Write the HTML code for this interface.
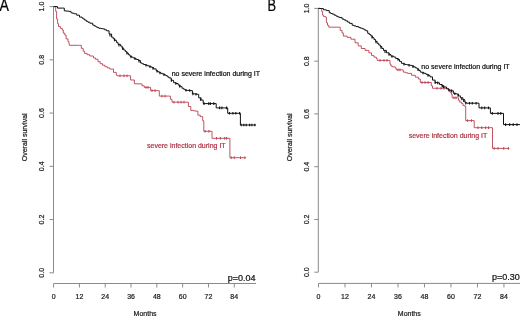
<!DOCTYPE html>
<html><head><meta charset="utf-8"><style>
html,body{margin:0;padding:0;background:#fff;width:520px;height:316px;overflow:hidden}
svg{display:block;will-change:transform}
text{font-family:"Liberation Sans",sans-serif}
</style></head><body>
<svg width="520" height="316" viewBox="0 0 520 316">
<line x1="53.5" y1="6.6" x2="53.5" y2="272.8" stroke="#8a8a8a" stroke-width="1"/>
<line x1="49.5" y1="272.80" x2="53.5" y2="272.80" stroke="#8a8a8a" stroke-width="1"/>
<text x="0" y="0" transform="translate(41.4 272.80) rotate(-90)" text-anchor="middle" dy="2.5" font-size="7" fill="#222" stroke="#222" stroke-width="0.22">0.0</text>
<line x1="49.5" y1="219.56" x2="53.5" y2="219.56" stroke="#8a8a8a" stroke-width="1"/>
<text x="0" y="0" transform="translate(41.4 219.56) rotate(-90)" text-anchor="middle" dy="2.5" font-size="7" fill="#222" stroke="#222" stroke-width="0.22">0.2</text>
<line x1="49.5" y1="166.32" x2="53.5" y2="166.32" stroke="#8a8a8a" stroke-width="1"/>
<text x="0" y="0" transform="translate(41.4 166.32) rotate(-90)" text-anchor="middle" dy="2.5" font-size="7" fill="#222" stroke="#222" stroke-width="0.22">0.4</text>
<line x1="49.5" y1="113.08" x2="53.5" y2="113.08" stroke="#8a8a8a" stroke-width="1"/>
<text x="0" y="0" transform="translate(41.4 113.08) rotate(-90)" text-anchor="middle" dy="2.5" font-size="7" fill="#222" stroke="#222" stroke-width="0.22">0.6</text>
<line x1="49.5" y1="59.84" x2="53.5" y2="59.84" stroke="#8a8a8a" stroke-width="1"/>
<text x="0" y="0" transform="translate(41.4 59.84) rotate(-90)" text-anchor="middle" dy="2.5" font-size="7" fill="#222" stroke="#222" stroke-width="0.22">0.8</text>
<line x1="49.5" y1="6.60" x2="53.5" y2="6.60" stroke="#8a8a8a" stroke-width="1"/>
<text x="0" y="0" transform="translate(41.4 6.60) rotate(-90)" text-anchor="middle" dy="2.5" font-size="7" fill="#222" stroke="#222" stroke-width="0.22">1.0</text>
<line x1="53.6" y1="283.5" x2="256" y2="283.5" stroke="#8a8a8a" stroke-width="1"/>
<line x1="53.60" y1="283.5" x2="53.60" y2="287.5" stroke="#8a8a8a" stroke-width="1"/>
<text x="53.60" y="299.0" text-anchor="middle" font-size="7" fill="#222" stroke="#222" stroke-width="0.22">0</text>
<line x1="79.41" y1="283.5" x2="79.41" y2="287.5" stroke="#8a8a8a" stroke-width="1"/>
<text x="79.41" y="299.0" text-anchor="middle" font-size="7" fill="#222" stroke="#222" stroke-width="0.22">12</text>
<line x1="105.22" y1="283.5" x2="105.22" y2="287.5" stroke="#8a8a8a" stroke-width="1"/>
<text x="105.22" y="299.0" text-anchor="middle" font-size="7" fill="#222" stroke="#222" stroke-width="0.22">24</text>
<line x1="131.03" y1="283.5" x2="131.03" y2="287.5" stroke="#8a8a8a" stroke-width="1"/>
<text x="131.03" y="299.0" text-anchor="middle" font-size="7" fill="#222" stroke="#222" stroke-width="0.22">36</text>
<line x1="156.84" y1="283.5" x2="156.84" y2="287.5" stroke="#8a8a8a" stroke-width="1"/>
<text x="156.84" y="299.0" text-anchor="middle" font-size="7" fill="#222" stroke="#222" stroke-width="0.22">48</text>
<line x1="182.65" y1="283.5" x2="182.65" y2="287.5" stroke="#8a8a8a" stroke-width="1"/>
<text x="182.65" y="299.0" text-anchor="middle" font-size="7" fill="#222" stroke="#222" stroke-width="0.22">60</text>
<line x1="208.46" y1="283.5" x2="208.46" y2="287.5" stroke="#8a8a8a" stroke-width="1"/>
<text x="208.46" y="299.0" text-anchor="middle" font-size="7" fill="#222" stroke="#222" stroke-width="0.22">72</text>
<line x1="234.27" y1="283.5" x2="234.27" y2="287.5" stroke="#8a8a8a" stroke-width="1"/>
<text x="234.27" y="299.0" text-anchor="middle" font-size="7" fill="#222" stroke="#222" stroke-width="0.22">84</text>
<text x="0" y="0" transform="translate(24.3 137.3) rotate(-90)" text-anchor="middle" dy="2.5" font-size="7" fill="#222" stroke="#222" stroke-width="0.22">Overall survival</text>
<text x="133.6" y="316" font-size="7" fill="#222" stroke="#222" stroke-width="0.22">Months</text>
<text x="227.8" y="280.5" font-size="9" fill="#111" stroke="#111" stroke-width="0.22">p=0.04</text>
<text x="0" y="0" transform="translate(-0.4 11.2) scale(0.86 1)" font-size="16.5" fill="#000" stroke="#000" stroke-width="0.22">A</text>
<text x="171.7" y="76.3" font-size="7" fill="#111" stroke="#111" stroke-width="0.22">no severe infection during IT</text>
<text x="147" y="147.8" font-size="7" fill="#b03848" stroke="#b03848" stroke-width="0.22">severe infection during IT</text>
<line x1="318.3" y1="8.4" x2="318.3" y2="272.2" stroke="#8a8a8a" stroke-width="1"/>
<line x1="314.3" y1="272.20" x2="318.3" y2="272.20" stroke="#8a8a8a" stroke-width="1"/>
<text x="0" y="0" transform="translate(306.1 272.20) rotate(-90)" text-anchor="middle" dy="2.5" font-size="7" fill="#222" stroke="#222" stroke-width="0.22">0.0</text>
<line x1="314.3" y1="219.44" x2="318.3" y2="219.44" stroke="#8a8a8a" stroke-width="1"/>
<text x="0" y="0" transform="translate(306.1 219.44) rotate(-90)" text-anchor="middle" dy="2.5" font-size="7" fill="#222" stroke="#222" stroke-width="0.22">0.2</text>
<line x1="314.3" y1="166.68" x2="318.3" y2="166.68" stroke="#8a8a8a" stroke-width="1"/>
<text x="0" y="0" transform="translate(306.1 166.68) rotate(-90)" text-anchor="middle" dy="2.5" font-size="7" fill="#222" stroke="#222" stroke-width="0.22">0.4</text>
<line x1="314.3" y1="113.92" x2="318.3" y2="113.92" stroke="#8a8a8a" stroke-width="1"/>
<text x="0" y="0" transform="translate(306.1 113.92) rotate(-90)" text-anchor="middle" dy="2.5" font-size="7" fill="#222" stroke="#222" stroke-width="0.22">0.6</text>
<line x1="314.3" y1="61.16" x2="318.3" y2="61.16" stroke="#8a8a8a" stroke-width="1"/>
<text x="0" y="0" transform="translate(306.1 61.16) rotate(-90)" text-anchor="middle" dy="2.5" font-size="7" fill="#222" stroke="#222" stroke-width="0.22">0.8</text>
<line x1="314.3" y1="8.40" x2="318.3" y2="8.40" stroke="#8a8a8a" stroke-width="1"/>
<text x="0" y="0" transform="translate(306.1 8.40) rotate(-90)" text-anchor="middle" dy="2.5" font-size="7" fill="#222" stroke="#222" stroke-width="0.22">1.0</text>
<line x1="318.5" y1="283.4" x2="520" y2="283.4" stroke="#8a8a8a" stroke-width="1"/>
<line x1="318.50" y1="283.4" x2="318.50" y2="287.4" stroke="#8a8a8a" stroke-width="1"/>
<text x="318.50" y="298.9" text-anchor="middle" font-size="7" fill="#222" stroke="#222" stroke-width="0.22">0</text>
<line x1="344.99" y1="283.4" x2="344.99" y2="287.4" stroke="#8a8a8a" stroke-width="1"/>
<text x="344.99" y="298.9" text-anchor="middle" font-size="7" fill="#222" stroke="#222" stroke-width="0.22">12</text>
<line x1="371.48" y1="283.4" x2="371.48" y2="287.4" stroke="#8a8a8a" stroke-width="1"/>
<text x="371.48" y="298.9" text-anchor="middle" font-size="7" fill="#222" stroke="#222" stroke-width="0.22">24</text>
<line x1="397.97" y1="283.4" x2="397.97" y2="287.4" stroke="#8a8a8a" stroke-width="1"/>
<text x="397.97" y="298.9" text-anchor="middle" font-size="7" fill="#222" stroke="#222" stroke-width="0.22">36</text>
<line x1="424.46" y1="283.4" x2="424.46" y2="287.4" stroke="#8a8a8a" stroke-width="1"/>
<text x="424.46" y="298.9" text-anchor="middle" font-size="7" fill="#222" stroke="#222" stroke-width="0.22">48</text>
<line x1="450.95" y1="283.4" x2="450.95" y2="287.4" stroke="#8a8a8a" stroke-width="1"/>
<text x="450.95" y="298.9" text-anchor="middle" font-size="7" fill="#222" stroke="#222" stroke-width="0.22">60</text>
<line x1="477.44" y1="283.4" x2="477.44" y2="287.4" stroke="#8a8a8a" stroke-width="1"/>
<text x="477.44" y="298.9" text-anchor="middle" font-size="7" fill="#222" stroke="#222" stroke-width="0.22">72</text>
<line x1="503.93" y1="283.4" x2="503.93" y2="287.4" stroke="#8a8a8a" stroke-width="1"/>
<text x="503.93" y="298.9" text-anchor="middle" font-size="7" fill="#222" stroke="#222" stroke-width="0.22">84</text>
<text x="0" y="0" transform="translate(289.2 137.3) rotate(-90)" text-anchor="middle" dy="2.5" font-size="7" fill="#222" stroke="#222" stroke-width="0.22">Overall survival</text>
<text x="397.8" y="316" font-size="7" fill="#222" stroke="#222" stroke-width="0.22">Months</text>
<text x="492.1" y="280.1" font-size="9" fill="#111" stroke="#111" stroke-width="0.22">p=0.30</text>
<text x="0" y="0" transform="translate(267.5 10.9) scale(0.78 1)" font-size="16.5" fill="#000" stroke="#000" stroke-width="0.22">B</text>
<text x="421.3" y="68.5" font-size="7" fill="#111" stroke="#111" stroke-width="0.22">no severe infection during IT</text>
<text x="408.7" y="138.3" font-size="7" fill="#b03848" stroke="#b03848" stroke-width="0.22">severe infection during IT</text>
<path d="M53.5 6.6H54.5H55.70V11.40H56.60V19.00H57.60V23.70H58.50V26.50H60.40V28.40H62.30V30.00H63.30V33.20H64.80V35.10H66.10V38.90H68.00V41.70H69.00V44.50H69.50V45.30H79.4H81.30V48.30H83.20V51.20H84.70V53.50H87.20V54.70H89.70V56.00H93.50V57.90H95.40V59.20H98.00V61.70H100.20V63.70H102.55V65.20H104.90V66.70H107.30V67.85H109.70V69.00H113.50V72.40H116.30V74.90H117.00V75.80H128.9H130.60V80.00H134.40V83.80H138.00V83.90H142.00V85.80H144.30V87.40H149.9H150.60V90.60H158.6H159.30V96.10H168.8H170.40V99.30H172.00V102.20H186.9H188.40V106.50H190.80V110.40H193.20V110.80H195.60V111.20H197.90V115.20H200.30V116.70H202.70V120.70H203.80V123.00V131.3H212.0V138.3H229.9V157.7H245.8" fill="none" stroke="#bb4150" stroke-width="0.9"/>
<path d="M205.1 130.0v2.6M208.9 130.0v2.6M216.5 137.0v2.6M220.3 137.0v2.6M224.7 137.0v2.6M226.6 137.0v2.6M231.2 156.4v2.6M234.2 156.4v2.6M240.5 156.4v2.6M244.9 156.4v2.6M120.0 74.5v2.6M124.0 74.5v2.6M127.0 74.5v2.6M146.0 86.1v2.6M148.0 86.1v2.6M152.0 89.3v2.6M155.0 89.3v2.6M162.0 94.8v2.6M165.0 94.8v2.6M174.0 100.9v2.6M178.0 100.9v2.6M181.0 100.9v2.6M184.0 100.9v2.6" fill="none" stroke="#bb4150" stroke-width="1"/>
<path d="M53.5 6.6H57.2H57.50V8.10H62.4H64.30V10.90H66.70V11.15H69.10V11.40H71.00V12.80H72.65V13.30H74.30V13.80H76.70V15.20H79.50V17.10H82.00V18.00H83.20V19.00H84.75V20.15H86.30V21.30H88.05V22.25H89.80V23.20H92.70V25.10H94.35V26.05H96.00V27.00H97.50V27.65H99.00V28.30H100.90V28.60H102.80V28.90H104.70V29.85H106.60V30.80H109.10V34.00H111.60V37.20H113.20V38.75H114.80V40.30H116.40V42.35H118.00V44.40H120.60V46.10H122.15V48.05H123.70V50.00H125.30V51.60H126.90V53.20H128.45V54.80H130.00V56.40H131.60V57.15H133.20V57.90H134.80V58.70H136.40V59.50H138.50V60.50H140.40V62.90H141.95V63.70H143.50V64.50H145.50V65.15H147.50V65.80H149.05V66.35H150.60V66.90H152.20V67.90H153.80V68.90H156.20V70.80H157.75V71.75H159.30V72.70H160.90V73.35H162.50V74.00H164.10V74.80H165.70V75.60H167.25V76.75H168.80V77.90H171.20V80.30H173.60V82.70H175.90V83.50H178.20V85.10H180.15V86.70H182.10V88.30H183.70V89.30H185.30V90.30H187.13V90.40H188.97V90.50H190.80V90.60H192.40V93.80H194.75V94.05H197.10V94.30H198.70V97.80H201.10V100.10H203.20V103.60H216.2V107.9H227.7V113.3H240.4V125.0H256.0" fill="none" stroke="#111" stroke-width="1"/>
<path d="M204.0 102.3v2.6M208.7 102.3v2.6M210.4 102.3v2.6M213.8 102.3v2.6M219.6 106.6v2.6M221.9 106.6v2.6M226.5 106.6v2.6M229.4 112.0v2.6M232.9 112.0v2.6M235.8 112.0v2.6M239.6 112.0v2.6M241.2 123.7v2.6M243.8 123.7v2.6M246.2 123.7v2.6M249.6 123.7v2.6M251.9 123.7v2.6M254.8 123.7v2.6M110.0 33.9v2.6M114.5 38.7v2.6M119.0 43.8v2.6M122.5 47.2v2.6M127.0 52.0v2.6M131.0 55.6v2.6M135.0 57.5v2.6M139.0 59.8v2.6M146.0 64.0v2.6M150.0 65.4v2.6M153.0 67.1v2.6M157.0 70.0v2.6M160.0 71.7v2.6M164.0 73.5v2.6M171.4 79.2v2.6M175.8 82.2v2.6M179.6 84.9v2.6M186.0 89.0v2.6M189.7 89.2v2.6M192.9 92.6v2.6M196.0 92.9v2.6M200.5 98.2v2.6" fill="none" stroke="#111" stroke-width="1.1"/>
<path d="M318.3 8.4H320.50V8.60H321.70V11.40H322.60V15.20H323.60V16.60H325.50V17.10H326.40V22.80H327.50V25.30H328.80V27.20H338.9H340.20V30.40H342.00V32.90H343.30V36.10H347.10V37.30H350.90V39.20H355.00V42.80H358.20V45.90H361.30V48.50H365.10V50.40H368.90V52.90H371.50V55.40H373.90V57.10H376.30V58.50H377.20V60.40H389.1H390.00V64.20H391.00V66.10H392.40V66.90H395.30V68.00H396.20V69.80H401.4H403.20V72.10H405.45V72.75H407.70V73.40H411.50V75.30H415.30V77.20H418.40V79.00H420.30V82.50H431.1H431.30V85.80H432.50V88.30H446.5H448.40V90.80H450.30V92.70H451.50V94.60H452.20V97.80H457.2H458.50V100.30H459.70V102.20H461.60V103.50H462.90V105.40H464.20V106.00H465.70V107.90V120.6H474.2V127.7H492.5V148.4H509.4" fill="none" stroke="#bb4150" stroke-width="0.9"/>
<path d="M467.6 119.3v2.6M471.4 119.3v2.6M478.0 126.4v2.6M481.8 126.4v2.6M485.6 126.4v2.6M488.5 126.4v2.6M494.2 147.1v2.6M498.0 147.1v2.6M503.7 147.1v2.6M508.4 147.1v2.6M437.0 87.0v2.6M441.0 87.0v2.6M444.0 87.0v2.6M454.0 96.5v2.6M456.0 96.5v2.6M380.0 59.1v2.6M384.0 59.1v2.6M387.0 59.1v2.6M398.0 68.5v2.6M400.0 68.5v2.6M422.0 81.2v2.6M425.0 81.2v2.6M428.0 81.2v2.6" fill="none" stroke="#bb4150" stroke-width="1"/>
<path d="M318.3 8.4H320.00V8.50H321.70V8.60H323.50V9.80H326.40V10.60H329.30V12.80H330.95V13.50H332.60V14.20H334.30V15.15H336.00V16.10H337.65V16.85H339.30V17.60H342.10V19.00H343.95V19.95H345.80V20.90H347.70V22.15H349.60V23.40H352.20V25.30H354.10V25.95H356.00V26.60H358.80V27.60H360.70V28.25H362.60V28.90H364.20V29.85H365.80V30.80H367.70V33.30H369.25V34.55H370.80V35.80H372.40V37.70H374.00V39.60H375.60V41.50H377.20V43.40H378.75V45.00H380.30V46.60H381.90V48.50H383.50V50.40H386.40V52.80H389.10V54.60H391.00V56.20H393.80V57.10H395.70V58.50H398.10V59.50H399.50V61.40H401.40V63.30H403.25V63.90H405.10V64.50H406.80V64.80H408.50V65.10H410.20V65.40H412.10V66.20H414.00V67.00H415.60V67.95H417.20V68.90H418.75V70.50H420.30V72.10H422.20V72.75H424.10V73.40H426.00V74.35H427.90V75.30H430.00V76.90H432.50V80.10H435.10V82.60H437.60V82.80H439.50V84.50H442.00V85.80H443.90V87.00H446.50V88.90H449.00V90.20H451.50V90.80H453.40V93.40H455.00V93.70H456.60V94.00H458.50V95.90H460.40V97.80H462.90V99.70H464.80V102.20H466.20V103.20H479.0V107.9H490.4V113.4H503.5V124.6H520.5" fill="none" stroke="#111" stroke-width="1"/>
<path d="M465.7 101.9v2.6M469.5 101.9v2.6M472.3 101.9v2.6M476.1 101.9v2.6M481.8 106.6v2.6M484.7 106.6v2.6M488.5 106.6v2.6M492.3 112.1v2.6M498.0 112.1v2.6M500.8 112.1v2.6M505.6 123.3v2.6M509.7 123.3v2.6M513.2 123.3v2.6M517.0 123.3v2.6M372.0 35.9v2.6M376.0 40.7v2.6M381.0 46.1v2.6M385.0 50.3v2.6M389.0 53.2v2.6M392.0 55.2v2.6M398.0 58.2v2.6M404.0 62.8v2.6M409.0 63.9v2.6M413.0 65.3v2.6M418.0 68.4v2.6M423.0 71.7v2.6M428.0 74.1v2.6M435.2 81.3v2.6M437.7 81.6v2.6M442.2 84.6v2.6M443.4 85.4v2.6M449.1 88.9v2.6M451.6 89.6v2.6M454.8 92.4v2.6M458.0 94.1v2.6M461.8 97.6v2.6M463.7 99.5v2.6" fill="none" stroke="#111" stroke-width="1.1"/>
</svg>
</body></html>
